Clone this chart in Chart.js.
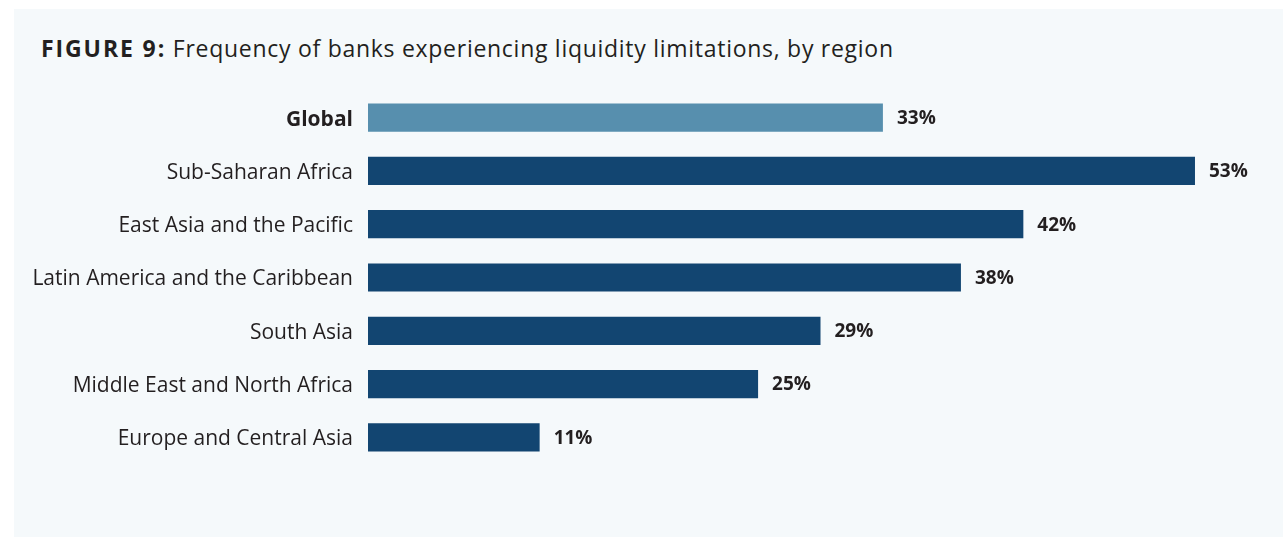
<!DOCTYPE html>
<html>
<head>
<meta charset="utf-8">
<script src="https://cdn.jsdelivr.net/npm/chart.js@4"></script>
<style>
  html, body { margin: 0; padding: 0; background: #ffffff; }
  body { width: 1283px; height: 539px; position: relative; overflow: hidden; }
  #panel {
    position: absolute; left: 14px; top: 9px; width: 1269px; height: 528px;
    background: #f5f9fb;
  }
  #title {
    position: absolute; left: 41px; top: 37px; margin: 0;
    font-family: "Open Sans", sans-serif; font-size: 23px; line-height: 23px;
    font-weight: 400; color: #231f20; white-space: nowrap; letter-spacing: 0.72px;
  }
  #title b { font-weight: 700; letter-spacing: 1.9px; }
  #wrap { position: absolute; left: 0; top: 0; width: 1283px; height: 539px; }
</style>
</head>
<body>
<div id="panel"></div>
<h2 id="title"><b>FIGURE 9:</b> Frequency of banks experiencing liquidity limitations, by region</h2>
<div id="wrap"><canvas id="chart"></canvas></div>
<script>
const regions = [
  'Global',
  'Sub-Saharan Africa',
  'East Asia and the Pacific',
  'Latin America and the Caribbean',
  'South Asia',
  'Middle East and North Africa',
  'Europe and Central Asia'
];
const shares = [33, 53, 42, 38, 29, 25, 11];
const barColors = ['#578fae', '#124571', '#124571', '#124571', '#124571', '#124571', '#124571'];

const FONT = '"Open Sans", sans-serif';

// writes the percentage just past the end of each bar
const valueLabels = {
  id: 'valueLabels',
  afterDatasetsDraw(chart) {
    const ctx = chart.ctx;
    const meta = chart.getDatasetMeta(0);
    ctx.save();
    ctx.font = '700 19px ' + FONT;
    ctx.fillStyle = '#231f20';
    ctx.textAlign = 'left';
    ctx.textBaseline = 'middle';
    meta.data.forEach((bar, i) => {
      ctx.fillText(shares[i] + '%', bar.x + 14, bar.y + 1);
    });
    ctx.restore();
  }
};

new Chart(document.getElementById('chart'), {
  type: 'bar',
  data: {
    labels: regions,
    datasets: [{
      data: shares,
      backgroundColor: barColors,
      borderWidth: 0,
      barPercentage: 0.53,
      categoryPercentage: 1
    }]
  },
  options: {
    indexAxis: 'y',
    responsive: true,
    maintainAspectRatio: false,
    animation: false,
    layout: { padding: { top: 91, bottom: 75, left: 0, right: 10 } },
    plugins: { legend: { display: false }, tooltip: { enabled: false } },
    scales: {
      x: { display: false, min: 0, max: 58 },
      y: {
        grid: { display: false, drawTicks: false },
        border: { display: false },
        afterFit(scale) { scale.width = 368; },
        ticks: {
          padding: 15,
          labelOffset: 2,
          color: '#231f20',
          font: (c) => ({ family: FONT, size: 21, weight: c.index === 0 ? 700 : 400 })
        }
      }
    }
  },
  plugins: [valueLabels]
});
</script>
</body>
</html>
